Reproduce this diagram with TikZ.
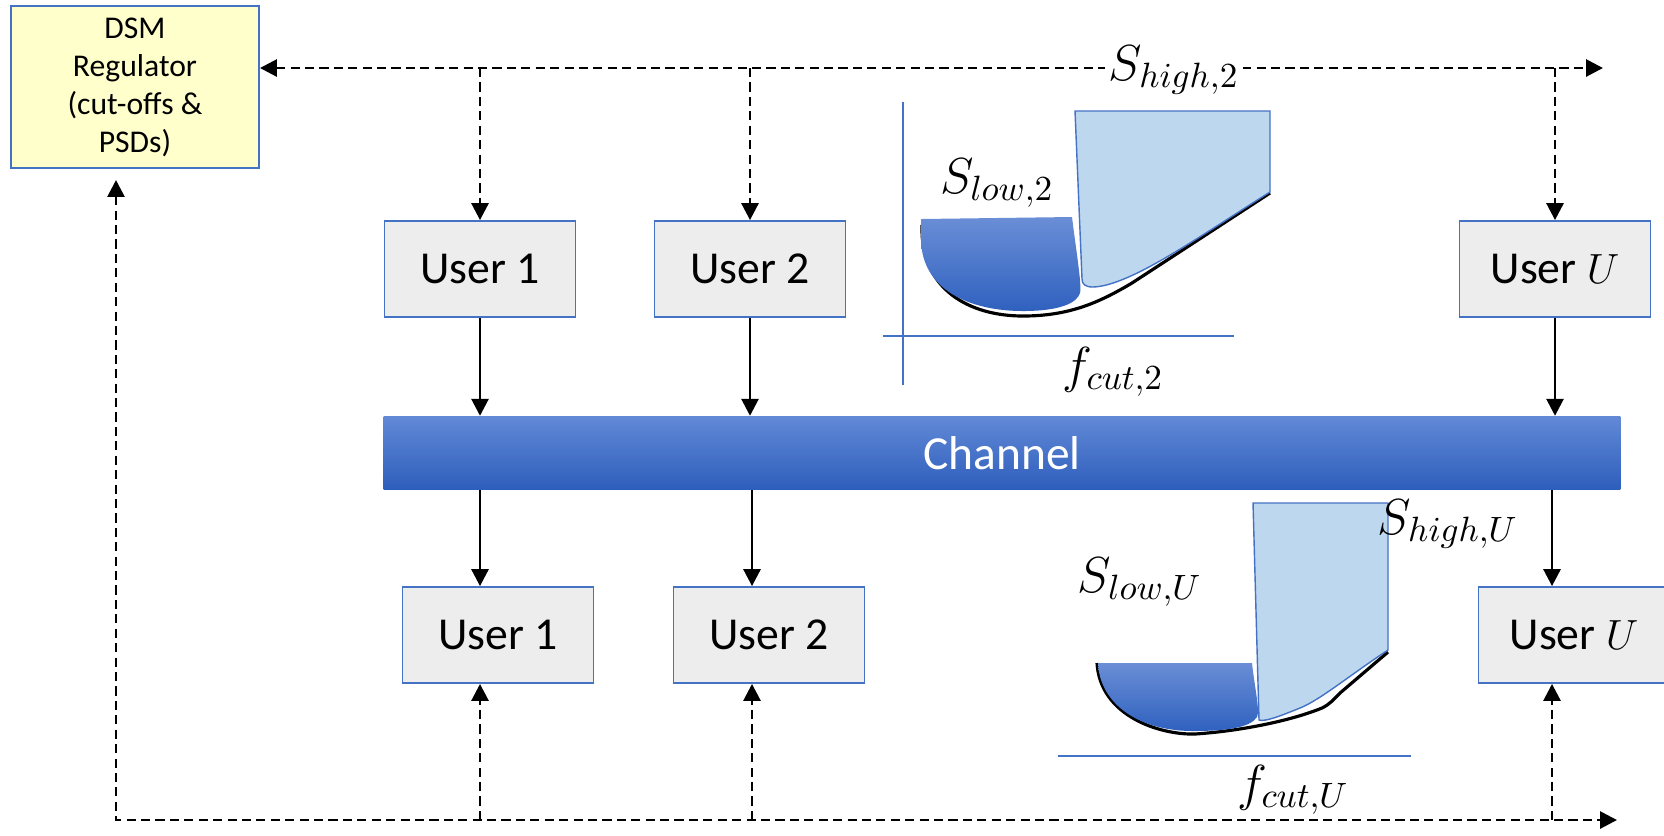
\documentclass[tikz,border=0pt]{standalone}
\usepackage{fontspec}
\setmainfont{Carlito}
\usetikzlibrary{arrows.meta}
\definecolor{edgeblue}{HTML}{4472C4}
\definecolor{boxgray}{HTML}{EDEDED}
\definecolor{regyellow}{HTML}{FFFFCC}
\definecolor{chantop}{HTML}{6189D6}
\definecolor{chanbot}{HTML}{2E5EBC}
\definecolor{psddark}{HTML}{2F61BF}
\definecolor{psdtop}{HTML}{6A8ED6}
\definecolor{psdlight}{HTML}{BDD7EE}
\tikzset{
	userbox/.style={draw=edgeblue, fill=boxgray, line width=0.5pt, minimum width=1.91cm, minimum height=0.96cm, font=\fontsize{13}{15}\selectfont},
	dbus/.style={dash pattern=on 2.6pt off 1.5pt, line width=0.8pt},
	sline/.style={line width=0.8pt},
	psdlabel/.style={inner sep=1pt, font=\fontsize{14}{16}\selectfont},
	axisline/.style={draw=edgeblue, line width=0.5pt},
}

\begin{document}
\begin{tikzpicture}[x=0.01cm, y=-0.01cm, >={Triangle[length=4.8pt,width=4.8pt]}]
		%%%%% START %%%%%
		\useasboundingbox (0, 0) rectangle (1664, 835);
		
		% regulator, users and the channel
		\node[draw=edgeblue, fill=regyellow, line width=0.5pt, minimum width=2.48cm, minimum height=1.54cm, align=center, font=\fontsize{9}{10.8}\selectfont] (dsm) at (135, 87) {DSM\\Regulator\\(cut-offs \&\\PSDs)};
		
		\node[userbox] (u1t) at (480, 269) {User 1};
		\node[userbox] (u2t) at (750, 269) {User 2};
		\node[userbox] (uUt) at (1555, 269) {User $U$};
		
		\node[top color=chantop, bottom color=chanbot, minimum width=12.36cm, minimum height=0.73cm, text=white, font=\fontsize{13.5}{15}\selectfont] (chan) at (1002, 453) {Channel};
		
		\node[userbox] (u1b) at (498, 635) {User 1};
		\node[userbox] (u2b) at (769, 635) {User 2};
		\node[userbox] (uUb) at (1574, 635) {User $U$};
		
		% signalling buses
		\coordinate (busTopEnd) at (1603, 68);
		\coordinate (busBotEnd) at (1617, 820);
		\coordinate (dsmIn) at (116, 180);
		\coordinate (tap1) at (480, 820);
		\coordinate (tap2) at (752, 820);
		\coordinate (tapU) at (1552, 820);
		
		\draw[dbus, <->] (dsm.east |- busTopEnd) -- (busTopEnd);
		\draw[dbus, ->] (u1t |- busTopEnd) -- (u1t.north);
		\draw[dbus, ->] (u2t |- busTopEnd) -- (u2t.north);
		\draw[dbus, ->] (uUt |- busTopEnd) -- (uUt.north);
		
		\draw[dbus, <->] (dsmIn) |- (busBotEnd);
		\draw[dbus, ->] (tap1) -- (tap1 |- u1b.south);
		\draw[dbus, ->] (tap2) -- (tap2 |- u2b.south);
		\draw[dbus, ->] (tapU) -- (tapU |- uUb.south);
		
		% data through the channel
		\draw[sline, ->] (u1t.south) -- (u1t.south |- chan.north);
		\draw[sline, ->] (u2t.south) -- (u2t.south |- chan.north);
		\draw[sline, ->] (uUt.south) -- (uUt.south |- chan.north);
		\draw[sline, ->] (tap1 |- chan.south) -- (tap1 |- u1b.north);
		\draw[sline, ->] (tap2 |- chan.south) -- (tap2 |- u2b.north);
		\draw[sline, ->] (tapU |- chan.south) -- (tapU |- uUb.north);
		
		% PSD of user 2
		\draw[axisline] (903, 102) -- (903, 385);
		\draw[axisline] (883, 336) -- (1234, 336);
		\draw[line width=0.9pt] (922, 225) .. controls (920, 290) and (970, 316) .. (1023, 316) .. controls (1070, 316) and (1100, 302) .. (1132, 283) -- (1270, 193);
		\shade[top color=psdtop, bottom color=psddark] (921, 219) -- (1072, 217) .. controls (1076, 250) and (1082, 285) .. (1080, 293) .. controls (1077, 303) and (1060, 311) .. (1023, 311) .. controls (970, 311) and (922, 290) .. (921, 240) -- cycle;
		\draw[edgeblue, line width=0.4pt, fill=psdlight] (1075, 111) -- (1270, 111) -- (1270, 192) .. controls (1200, 236) and (1130, 286) .. (1093, 287) .. controls (1085, 287) and (1082, 284) .. (1082, 279) -- cycle;
		\node[psdlabel, fill=white] (shigh2) at (1174, 70) {$S_{high,2}$};
		\node[psdlabel] (slow2) at (997, 183) {$S_{low,2}$};
		\node[psdlabel] (fcut2) at (1113, 372) {$f_{cut,2}$};
		
		% PSD of user U
		\draw[axisline] (1058, 756) -- (1411, 756);
		\draw[line width=0.9pt] (1097, 663) .. controls (1100, 716) and (1160, 735) .. (1195, 734) .. controls (1240, 731) and (1290, 721) .. (1322, 708) .. controls (1330, 704) and (1333, 700) .. (1340, 693) -- (1388, 652);
		\shade[top color=psdtop, bottom color=psddark] (1098, 663) -- (1252, 663) .. controls (1255, 690) and (1260, 710) .. (1257, 717) .. controls (1250, 728) and (1225, 731) .. (1193, 731) .. controls (1140, 731) and (1100, 705) .. (1098, 663) -- cycle;
		\draw[edgeblue, line width=0.4pt, fill=psdlight] (1253, 503) -- (1388, 503) -- (1388, 650) .. controls (1350, 675) and (1320, 700) .. (1300, 708) .. controls (1280, 716) and (1265, 722) .. (1259, 720) -- cycle;
		\node[psdlabel] (slowU) at (1140, 582) {$S_{low,U}$};
		\node[psdlabel] (shighU) at (1448, 524) {$S_{high,U}$};
		\node[psdlabel] (fcutU) at (1293, 790) {$f_{cut,U}$};
		
		%%%%% END %%%%%
	\end{tikzpicture}
\end{document}
